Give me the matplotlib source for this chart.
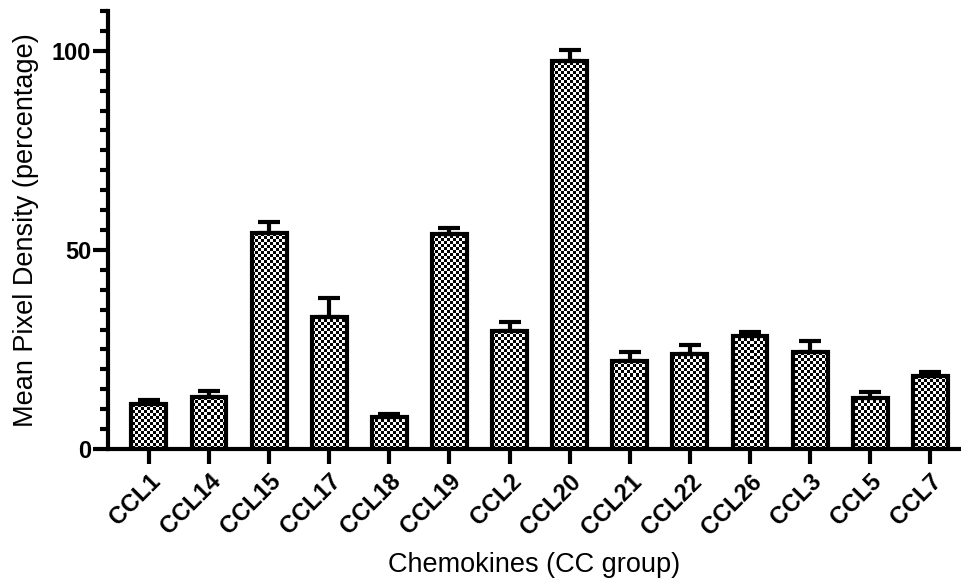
import numpy as np
import matplotlib
matplotlib.use("Agg")
import matplotlib.pyplot as plt
from matplotlib.ticker import MultipleLocator

plt.rcParams['font.family'] = ['Liberation Sans', 'DejaVu Sans']

categories = ["CCL1", "CCL14", "CCL15", "CCL17", "CCL18", "CCL19", "CCL2",
              "CCL20", "CCL21", "CCL22", "CCL26", "CCL3", "CCL5", "CCL7"]
means = [11.3, 13.1, 54.2, 33.2, 8.0, 54.0, 29.7,
         97.4, 22.2, 23.8, 28.5, 24.4, 12.9, 18.4]
sem = [1.0, 1.4, 2.9, 4.8, 0.8, 1.5, 2.1,
       2.9, 2.1, 2.3, 1.0, 2.7, 1.5, 1.0]

W, H, DPI = 961, 581, 100
fig = plt.figure(figsize=(W / DPI, H / DPI), dpi=DPI)
ax_l, ax_b, ax_r, ax_t = 108, 449, 961, 11   # pixel frame of the plot area
ax = fig.add_axes([ax_l / W, (H - ax_b) / H, (ax_r - ax_l) / W, (ax_b - ax_t) / H])

xmin, xmax, ymin, ymax = -0.68, 13.51, 0, 110
ax.set_xlim(xmin, xmax)
ax.set_ylim(ymin, ymax)

x = np.arange(len(categories))
bar_w = 0.58
bars = ax.bar(x, means, width=bar_w, facecolor='none', edgecolor='black',
              linewidth=3, zorder=3)

# checkerboard fill, one fine-grained board shared by every bar
cell = 3  # pixels per check
nx = int((ax_r - ax_l) / cell)
ny = int((ax_b - ax_t) / cell)
board = (np.add.outer(np.arange(ny), np.arange(nx)) % 2).astype(float)
for b in bars:
    im = ax.imshow(board, cmap='gray', vmin=0, vmax=1, interpolation='nearest',
                   extent=[xmin, xmin + nx * cell * (xmax - xmin) / (ax_r - ax_l),
                           ymin, ymin + ny * cell * (ymax - ymin) / (ax_b - ax_t)],
                   origin='lower', aspect='auto', zorder=2)
    im.set_clip_path(b)
ax.set_xlim(xmin, xmax)
ax.set_ylim(ymin, ymax)

ax.errorbar(x, means, yerr=[np.zeros(len(sem)), sem], fmt='none',
            ecolor='black', elinewidth=3, capsize=8, capthick=3, zorder=4)

for s in ['top', 'right']:
    ax.spines[s].set_visible(False)
for s in ['left', 'bottom']:
    ax.spines[s].set_linewidth(3)

ax.yaxis.set_major_locator(MultipleLocator(50))
ax.yaxis.set_minor_locator(MultipleLocator(5))
ax.tick_params(axis='y', which='major', length=11, width=3, pad=1,
               labelsize=17)
ax.tick_params(axis='y', which='minor', length=6, width=3)
ax.tick_params(axis='x', which='major', length=11, width=3, pad=4,
               labelsize=17)
for lbl in ax.get_yticklabels():
    lbl.set_fontweight('bold')

ax.set_xticks(x)
ax.set_xticklabels(categories, rotation=45, ha='right', va='top',
                   rotation_mode='anchor', fontweight='bold')

ax.set_ylabel("Mean Pixel Density (percentage)", fontsize=19.5, labelpad=9)
ax.set_xlabel("Chemokines (CC group)", fontsize=19.5, labelpad=9)

fig.savefig("out.png", dpi=DPI)
